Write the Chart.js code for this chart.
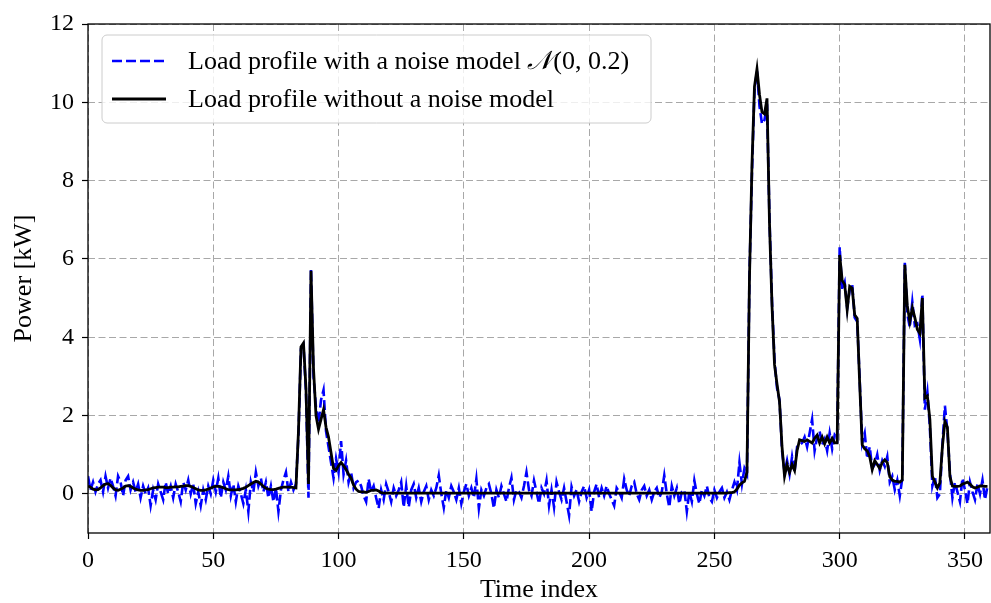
<!DOCTYPE html>
<html lang="en">
<head>
  <meta charset="UTF-8">
  <title>Load profile with and without noise</title>
  <script src="https://cdn.jsdelivr.net/npm/chart.js@4.4.1/dist/chart.umd.min.js"></script>
  <style>
    html, body { margin: 0; padding: 0; background: #fff; }
    #wrap { width: 991px; height: 603px; }
  </style>
</head>
<body>
  <div id="wrap"><canvas id="chart" width="991" height="603"></canvas></div>

  <script>
    // values, one per time index (0..359)
    const noisy = [
      0.45,0.10,0.30,0.05,0.25,0.35,0.05,0.45,0.15,0.40,
      0.20,-0.05,0.45,0.30,-0.05,0.35,0.45,0.10,0.30,0.05,
      0.25,-0.10,0.20,0.00,0.15,-0.30,0.10,-0.15,0.25,0.05,
      -0.15,0.30,0.00,0.20,-0.10,0.25,0.05,-0.20,0.30,0.10,
      0.35,0.00,0.25,-0.25,0.05,-0.30,0.10,-0.15,0.20,0.00,
      0.35,0.05,0.40,-0.10,0.30,0.10,0.45,-0.05,0.25,-0.20,
      0.20,0.00,-0.25,0.10,-0.45,0.30,0.05,0.55,0.20,0.40,
      0.05,0.30,-0.10,0.20,-0.20,0.15,-0.45,0.10,0.35,0.55,
      0.05,0.30,0.10,0.25,1.50,3.70,3.80,2.60,-0.10,5.75,
      3.00,2.20,1.80,2.40,2.65,1.60,1.20,0.80,0.40,0.90,
      0.55,1.35,0.50,0.85,0.30,0.55,0.15,0.30,0.34,0.20,
      -0.05,-0.20,0.38,0.05,0.20,-0.10,-0.37,0.10,-0.15,0.25,
      0.05,-0.20,0.15,-0.05,0.10,0.30,-0.34,0.20,-0.34,0.10,
      0.25,-0.10,0.15,-0.20,0.05,0.20,-0.15,0.10,-0.05,0.15,
      0.47,0.00,-0.35,0.10,-0.10,0.20,0.05,-0.15,0.15,-0.25,
      0.05,0.25,-0.05,0.15,-0.10,0.38,-0.37,0.10,-0.05,0.15,
      0.25,0.00,-0.37,0.10,-0.10,0.20,0.00,-0.20,0.15,0.41,
      -0.15,0.10,0.05,-0.10,0.20,0.55,0.10,-0.05,0.34,0.05,
      -0.25,0.15,0.00,0.34,-0.30,0.10,-0.34,0.30,0.05,-0.15,
      0.15,-0.20,-0.55,0.18,-0.05,0.10,-0.20,0.05,0.20,-0.10,
      0.10,-0.45,0.05,0.25,-0.10,0.15,-0.05,0.20,0.00,-0.15,
      -0.30,0.15,0.05,-0.10,0.38,0.10,-0.05,0.20,0.30,0.00,
      -0.15,0.10,0.20,-0.05,0.10,-0.15,0.05,0.15,-0.10,0.05,
      0.47,0.00,-0.34,0.20,-0.05,0.15,-0.25,0.05,0.10,-0.45,
      0.05,-0.20,0.34,0.00,-0.25,0.10,-0.05,0.20,-0.10,-0.20,
      0.10,-0.10,0.05,0.15,-0.10,0.05,-0.15,0.10,0.30,0.10,
      0.80,0.25,0.65,0.50,5.60,8.20,10.30,10.80,9.90,9.45,
      9.55,9.95,7.00,4.90,3.40,2.70,2.40,1.10,0.55,0.85,
      0.50,0.95,0.55,1.20,1.25,1.30,1.45,1.20,1.55,1.90,
      1.10,1.45,1.60,1.25,1.40,1.10,1.55,1.15,1.50,1.40,
      6.30,5.20,5.40,4.75,5.20,5.35,4.50,4.40,2.90,1.30,
      1.55,0.90,1.20,0.65,0.75,1.00,0.60,0.85,0.70,0.95,
      0.30,0.45,0.10,0.35,-0.05,0.40,5.90,4.60,4.25,4.90,
      4.30,4.35,3.95,5.10,2.15,2.60,1.70,0.20,0.45,-0.10,
      0.00,1.25,2.25,1.60,0.55,-0.10,0.30,0.05,-0.20,0.40,
      0.10,-0.25,0.30,0.05,-0.15,0.25,0.00,0.35,-0.15,0.20
    ];

    const clean = [
      0.20,0.17,0.12,0.10,0.11,0.15,0.21,0.25,0.26,0.22,
      0.15,0.10,0.09,0.12,0.15,0.20,0.21,0.19,0.15,0.12,
      0.10,0.09,0.09,0.10,0.11,0.13,0.15,0.16,0.17,0.17,
      0.17,0.16,0.16,0.17,0.17,0.18,0.18,0.19,0.20,0.21,
      0.21,0.19,0.16,0.13,0.10,0.09,0.09,0.10,0.12,0.15,
      0.18,0.19,0.19,0.18,0.16,0.13,0.11,0.10,0.10,0.10,
      0.11,0.12,0.14,0.17,0.21,0.25,0.29,0.32,0.30,0.25,
      0.19,0.14,0.12,0.11,0.11,0.12,0.14,0.16,0.17,0.17,
      0.17,0.17,0.16,0.15,1.60,3.75,3.85,2.70,0.25,5.70,
      3.20,2.00,1.65,1.90,2.15,1.70,1.45,1.05,0.65,0.60,
      0.72,0.80,0.72,0.62,0.50,0.40,0.22,0.12,0.06,0.05,
      0.05,0.04,0.06,0.09,0.09,0.10,0.07,0.03,0.02,0.02,
      0.02,0.02,0.02,0.02,0.02,0.02,0.02,0.02,0.02,0.02,
      0.02,0.02,0.02,0.02,0.02,0.02,0.02,0.02,0.02,0.02,
      0.02,0.02,0.02,0.02,0.02,0.02,0.02,0.02,0.02,0.02,
      0.02,0.02,0.02,0.02,0.02,0.02,0.02,0.02,0.02,0.02,
      0.02,0.02,0.02,0.02,0.02,0.02,0.02,0.02,0.02,0.02,
      0.02,0.02,0.02,0.02,0.02,0.02,0.02,0.02,0.02,0.02,
      0.02,0.02,0.02,0.02,0.02,0.02,0.02,0.02,0.02,0.02,
      0.02,0.02,0.02,0.02,0.02,0.02,0.02,0.02,0.02,0.02,
      0.02,0.02,0.02,0.02,0.02,0.02,0.02,0.02,0.02,0.02,
      0.02,0.02,0.02,0.02,0.02,0.02,0.02,0.02,0.02,0.02,
      0.02,0.02,0.02,0.02,0.02,0.02,0.02,0.02,0.02,0.02,
      0.02,0.02,0.02,0.02,0.02,0.02,0.02,0.02,0.02,0.02,
      0.02,0.02,0.02,0.02,0.02,0.02,0.02,0.02,0.02,0.02,
      0.02,0.02,0.02,0.02,0.02,0.02,0.03,0.03,0.05,0.12,
      0.22,0.28,0.32,0.55,5.50,8.40,10.40,10.85,10.20,9.75,
      9.70,10.10,6.90,4.80,3.30,2.80,2.35,1.20,0.45,0.75,
      0.55,0.75,0.60,1.10,1.38,1.36,1.34,1.38,1.34,1.30,
      1.42,1.50,1.30,1.45,1.28,1.45,1.30,1.42,1.30,1.30,
      6.10,5.45,5.35,4.70,5.30,5.25,4.57,4.48,2.80,1.25,
      1.15,1.10,0.95,0.62,0.85,0.75,0.65,0.80,0.87,0.80,
      0.44,0.35,0.32,0.32,0.30,0.35,5.85,4.80,4.40,4.75,
      4.50,4.20,4.10,5.00,2.45,2.50,1.90,0.45,0.30,0.15,
      0.28,1.20,1.85,1.70,0.45,0.20,0.19,0.19,0.20,0.25,
      0.27,0.30,0.25,0.18,0.15,0.17,0.20,0.20,0.19,0.19
    ];

    const xTicks = [0, 50, 100, 150, 200, 250, 300, 350];
    const yTicks = [0, 2, 4, 6, 8, 10, 12];
    const noisyLabel = ['Load profile with a noise model ', '\u{1D4A9}', '(0, 0.2)'];
    const cleanLabel = 'Load profile without a noise model';

    const serif = '"Liberation Serif", "Times New Roman", serif';
    const gridGray = '#a8a8a8';

    // box around the plot area, like matplotlib spines
    const frame = {
      id: 'frame',
      afterDraw(chart) {
        const { ctx, chartArea: a } = chart;
        ctx.save();
        ctx.strokeStyle = '#000';
        ctx.lineWidth = 1.3;
        ctx.strokeRect(a.left, a.top, a.right - a.left, a.bottom - a.top);
        ctx.restore();
      }
    };

    // legend sitting inside the plot, upper left
    const innerLegend = {
      id: 'innerLegend',
      afterDraw(chart) {
        const { ctx, chartArea: a } = chart;
        const x = a.left + 14, y = a.top + 11, w = 549, h = 88;
        ctx.save();
        ctx.beginPath();
        ctx.roundRect(x, y, w, h, 5);
        ctx.fillStyle = 'rgba(255,255,255,0.8)';
        ctx.fill();
        ctx.strokeStyle = '#cccccc';
        ctx.lineWidth = 1;
        ctx.stroke();

        const rows = [y + 26, y + 64];
        const ds = chart.data.datasets;
        rows.forEach((ry, i) => {
          ctx.beginPath();
          ctx.strokeStyle = ds[i].borderColor;
          ctx.lineWidth = ds[i].borderWidth;
          ctx.setLineDash(ds[i].borderDash || []);
          ctx.moveTo(x + 10, ry);
          ctx.lineTo(x + 64, ry);
          ctx.stroke();
        });
        ctx.setLineDash([]);

        ctx.fillStyle = '#000';
        ctx.textBaseline = 'middle';
        let tx = x + 86;
        ctx.font = '26px ' + serif;
        ctx.fillText(noisyLabel[0], tx, rows[0] + 1);
        tx += ctx.measureText(noisyLabel[0]).width;
        ctx.font = 'italic 26px "DejaVu Serif", ' + serif;
        ctx.fillText(noisyLabel[1], tx, rows[0] + 1);
        tx += ctx.measureText(noisyLabel[1]).width + 1;
        ctx.font = '26px ' + serif;
        ctx.fillText(noisyLabel[2], tx, rows[0] + 1);
        ctx.fillText(cleanLabel, x + 86, rows[1] + 1);
        ctx.restore();
      }
    };

    const ctx = document.getElementById('chart');

    new Chart(ctx, {
      type: 'line',
      data: {
        datasets: [{
          label: noisyLabel.join(''),
          data: noisy.map((v, i) => ({ x: i, y: v })),
          borderColor: '#0000ff',
          borderWidth: 2.6,
          borderDash: [10, 4],
          pointRadius: 0,
          tension: 0,
          order: 2
        }, {
          label: cleanLabel,
          data: clean.map((v, i) => ({ x: i, y: v })),
          borderColor: '#000000',
          borderWidth: 2.8,
          pointRadius: 0,
          tension: 0,
          order: 1
        }]
      },
      options: {
        responsive: false,
        animation: false,
        devicePixelRatio: 1,
        layout: { padding: { top: 24, right: 1, left: 0, bottom: 0 } },
        plugins: {
          legend: { display: false },
          tooltip: { enabled: false }
        },
        scales: {
          x: {
            type: 'linear',
            min: 0,
            max: 360,
            afterBuildTicks: (s) => { s.ticks = xTicks.map(v => ({ value: v })); },
            afterFit: (s) => { s.height = 70; },
            ticks: {
              color: '#000',
              padding: 7,
              maxRotation: 0,
              font: { family: serif, size: 24 }
            },
            grid: {
              color: gridGray,
              lineWidth: 1,
              tickColor: '#000',
              tickLength: 6,
              tickWidth: 1.2
            },
            border: { display: false, dash: [7, 3.5] },
            title: {
              display: true,
              text: 'Time index',
              color: '#000',
              padding: 0,
              font: { family: serif, size: 26, lineHeight: 1 }
            }
          },
          y: {
            min: -1,
            max: 12,
            afterBuildTicks: (s) => { s.ticks = yTicks.map(v => ({ value: v })); },
            afterFit: (s) => { s.width = 88; },
            ticks: {
              color: '#000',
              padding: 8,
              font: { family: serif, size: 24 }
            },
            grid: {
              color: gridGray,
              lineWidth: 1,
              tickColor: '#000',
              tickLength: 6,
              tickWidth: 1.2
            },
            border: { display: false, dash: [7, 3.5] },
            title: {
              display: true,
              text: 'Power [kW]',
              color: '#000',
              padding: { top: 11, bottom: 0 },
              font: { family: serif, size: 26, lineHeight: 1 }
            }
          }
        }
      },
      plugins: [frame, innerLegend]
    });
  </script>
</body>
</html>
